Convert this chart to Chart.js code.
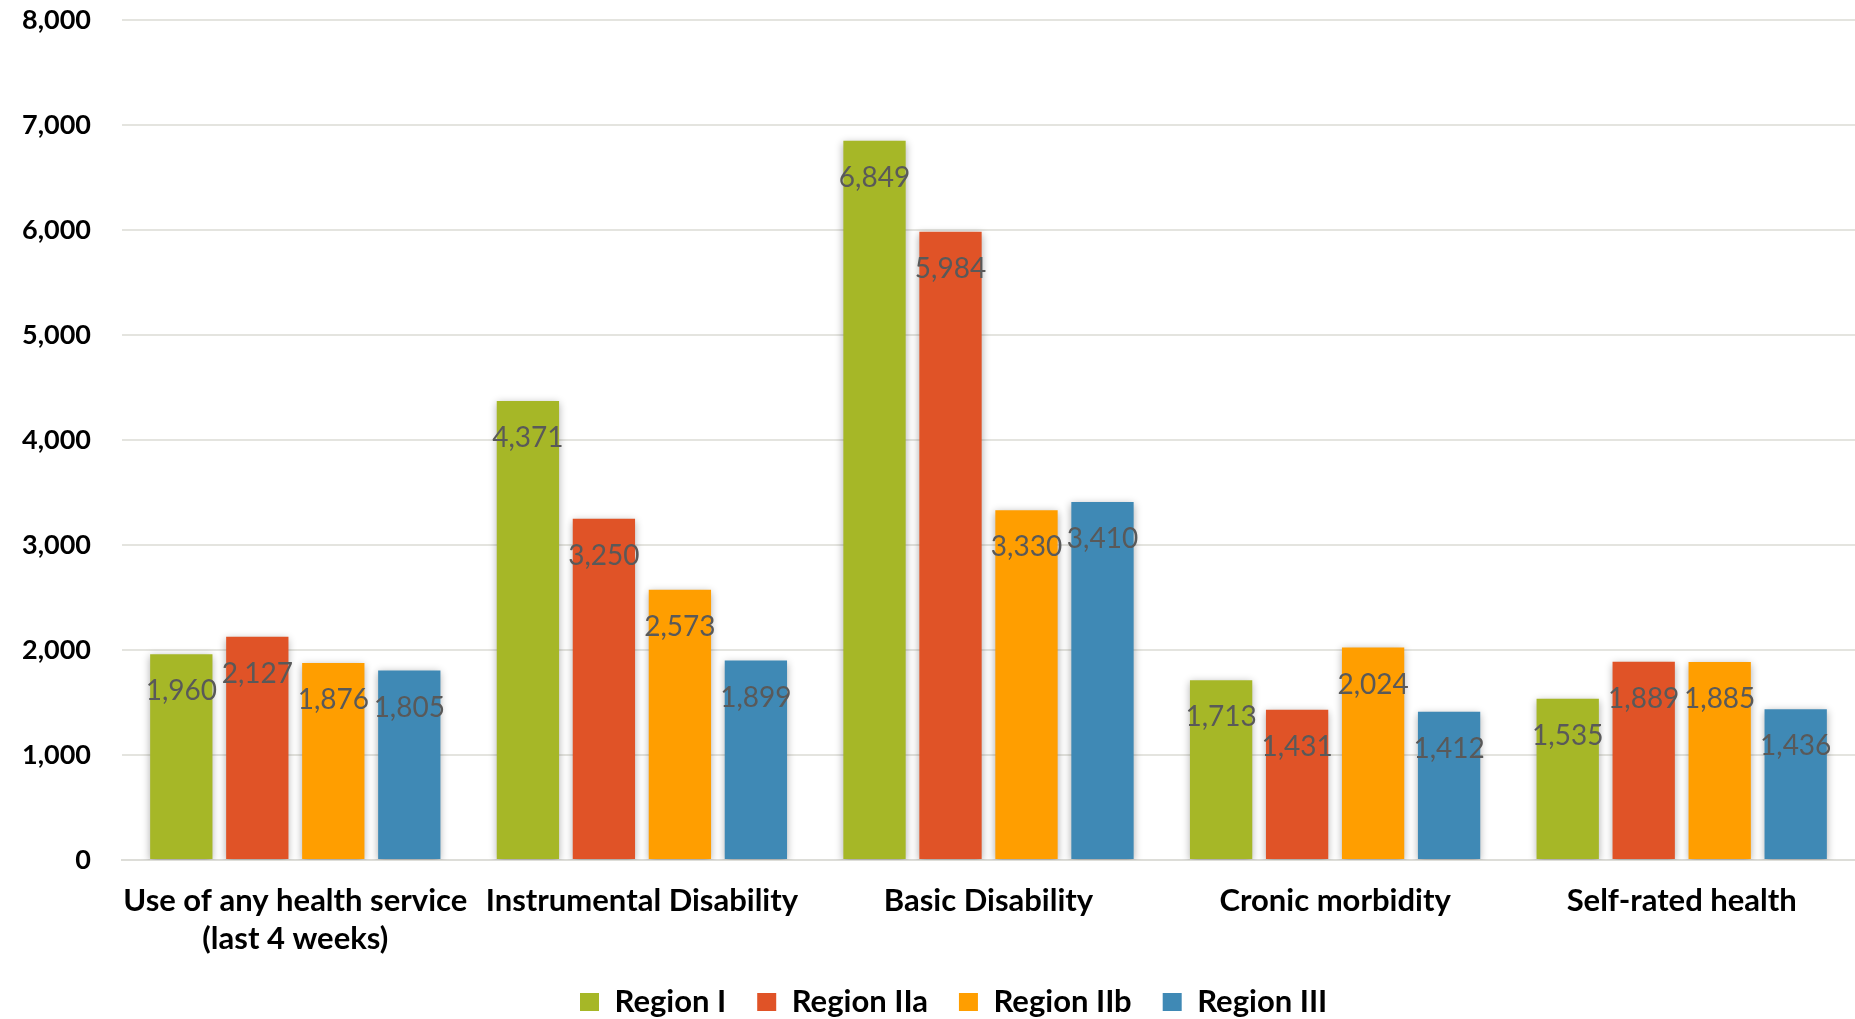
<!DOCTYPE html>
<html>
<head>
<meta charset="utf-8">
<script src="https://cdn.jsdelivr.net/npm/chart.js@4"></script>
<style>
  html, body { margin: 0; padding: 0; background: #ffffff; }
  #wrap { width: 1855px; height: 1019px; position: relative; }
</style>
</head>
<body>
<div id="wrap"><canvas id="chart"></canvas></div>
<script>
// Health indicators by region
const categories = [
  ["Use of any health service", "(last 4 weeks)"],
  "Instrumental Disability",
  "Basic Disability",
  "Cronic morbidity",
  "Self-rated health"
];
const seriesNames = ["Region I", "Region IIa", "Region IIb", "Region III"];
const regionI   = [1960, 4371, 6849, 1713, 1535];
const regionIIa = [2127, 3250, 5984, 1431, 1889];
const regionIIb = [1876, 2573, 3330, 2024, 1885];
const regionIII = [1805, 1899, 3410, 1412, 1436];
const yTicks = [0, 1000, 2000, 3000, 4000, 5000, 6000, 7000, 8000];

const seriesValues = [regionI, regionIIa, regionIIb, regionIII];
const seriesColors = ["#A6B727", "#E05327", "#FF9E00", "#3F89B5"];

const fmt = v => Number(v).toLocaleString("en-US");

// space kept below the plot for category labels and legend
const BOTTOM_BAND = 159;
const LEGEND_BAND = 40;
const LEGEND_PAD = 31;
const LEGEND_FONT = 31;
const LEGEND_TOP = 1002 - LEGEND_PAD - LEGEND_FONT / 2;
const LEGEND_LEFT = 580 - LEGEND_PAD;

// soft drop shadow behind the bars
const barShadow = {
  id: "barShadow",
  beforeDatasetsDraw(chart) {
    const ctx = chart.ctx;
    ctx.save();
    ctx.shadowColor = "rgba(0,0,0,0.32)";
    ctx.shadowBlur = 8;
    ctx.shadowOffsetX = 0;
    ctx.shadowOffsetY = 2;
  },
  afterDatasetsDraw(chart) {
    chart.ctx.restore();
  }
};

// value labels just inside the top of each bar
const valueLabels = {
  id: "valueLabels",
  afterDatasetsDraw(chart) {
    const ctx = chart.ctx;
    ctx.save();
    ctx.font = "28px Lato";
    ctx.fillStyle = "#595959";
    ctx.textAlign = "center";
    ctx.textBaseline = "middle";
    chart.data.datasets.forEach((ds, i) => {
      const meta = chart.getDatasetMeta(i);
      meta.data.forEach((el, j) => {
        ctx.fillText(fmt(ds.data[j]), el.x, el.y + 37);
      });
    });
    ctx.restore();
  }
};

// the legend only reserves a thin band, then sits under the category labels
const legendPlace = {
  id: "legendPlace",
  beforeLayout(chart) {
    const lg = chart.legend;
    if (lg && !lg._bandFit) {
      const fit = lg.fit;
      lg.fit = function () {
        fit.call(this);
        this.height = LEGEND_BAND;
      };
      lg._bandFit = true;
    }
  },
  afterLayout(chart) {
    const lg = chart.legend;
    const dx = LEGEND_LEFT - lg.left;
    lg.left += dx;
    lg.right += dx;
    lg.top = LEGEND_TOP;
    lg.bottom = chart.height;
    lg.height = lg.bottom - lg.top;
  }
};

new Chart(document.getElementById("chart"), {
  type: "bar",
  data: {
    labels: categories,
    datasets: seriesNames.map((name, i) => ({
      label: name,
      data: seriesValues[i],
      backgroundColor: seriesColors[i],
      borderWidth: 0,
      categoryPercentage: 0.877,
      barPercentage: 0.82
    }))
  },
  options: {
    responsive: true,
    maintainAspectRatio: false,
    animation: false,
    layout: { padding: { top: 20, right: 0, bottom: 0, left: 0 } },
    plugins: {
      legend: {
        position: "bottom",
        align: "start",
        labels: {
          boxWidth: 19,
          boxHeight: 18,
          padding: LEGEND_PAD,
          color: "#000000",
          font: { family: "Lato", size: LEGEND_FONT, weight: "bold", lineHeight: 1 }
        }
      },
      tooltip: { enabled: false }
    },
    scales: {
      x: {
        afterFit(scale) {
          scale.height = BOTTOM_BAND - LEGEND_BAND;
        },
        grid: { display: false },
        border: { display: true, color: "#DDDDD8", width: 2 },
        ticks: {
          color: "#000000",
          padding: 14,
          maxRotation: 0,
          autoSkip: false,
          font: { family: "Lato", size: 31, weight: "bold", lineHeight: 1.23 }
        }
      },
      y: {
        min: 0,
        max: 8000,
        afterBuildTicks(scale) {
          scale.ticks = yTicks.map(v => ({ value: v }));
        },
        afterFit(scale) {
          scale.width = 122;
          scale.paddingTop = 0;
          scale.paddingBottom = 0;
        },
        grid: { color: "#E4E4DF", lineWidth: 2, drawTicks: false },
        border: { display: false },
        ticks: {
          color: "#000000",
          padding: 31,
          font: { family: "Lato", size: 27, weight: "bold" },
          callback: v => fmt(v)
        }
      }
    }
  },
  plugins: [barShadow, valueLabels, legendPlace]
});
</script>
</body>
</html>
